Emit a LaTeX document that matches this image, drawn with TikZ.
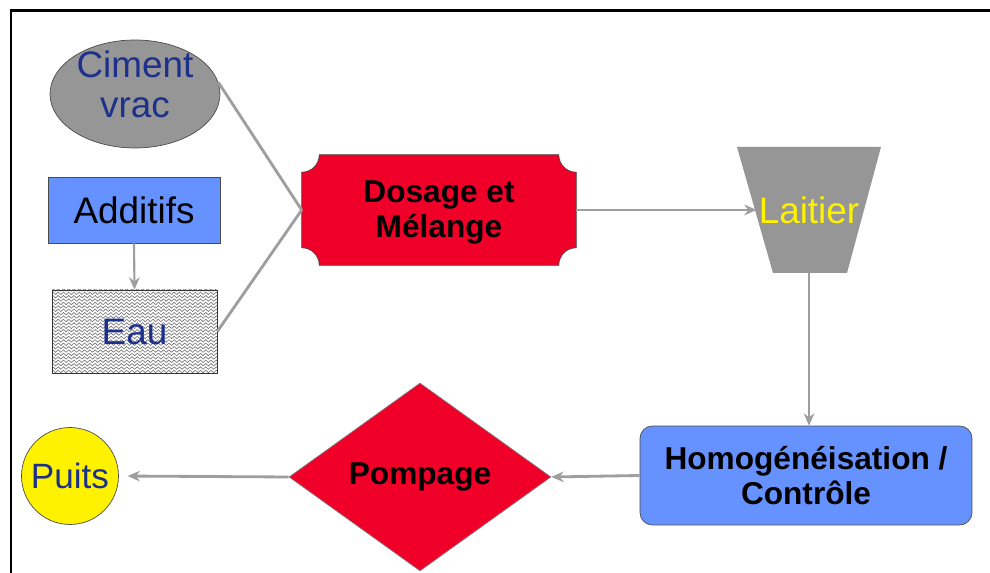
\documentclass[tikz,border=0pt]{standalone}
\usepackage{fontspec}
\setmainfont{Liberation Sans}
\usetikzlibrary{shapes.geometric,decorations.pathmorphing,arrows.meta}

\definecolor{boxred}{RGB}{240,0,40}
\definecolor{boxblue}{RGB}{102,146,255}
\definecolor{boxgray}{RGB}{150,150,150}
\definecolor{textblue}{RGB}{28,48,140}
\definecolor{linegray}{RGB}{158,158,158}

\begin{document}
\begin{tikzpicture}[x=0.02cm,y=0.02cm,
    flow/.style={draw=linegray, line width=1.6pt, -{Stealth[length=7pt,width=6pt]}},
    link/.style={draw=linegray, line width=1.6pt},
    bigtext/.style={font=\fontsize{21}{23}\selectfont, align=center},
    boldtext/.style={font=\fontsize{18}{20}\selectfont\bfseries, align=center},
    wave/.style={draw=black!55, line width=0.35pt, decorate,
        decoration={snake, amplitude=0.7pt, segment length=3pt}}]
    \useasboundingbox (0,0) rectangle (990,573);
    \fill[white] (0,0) rectangle (990,573);
    \draw[line width=1.7pt] (990,562) -- (11,562) -- (11,0);

    % sources
    \node[ellipse, draw=black!70, fill=boxgray, minimum width=3.4cm, minimum height=2.16cm,
        inner sep=0] (ciment) at (135,479) {};
    \node[bigtext, text=textblue] (cimentlbl) at ([yshift=5.5pt]ciment.center) {Ciment\\vrac};
    \node[rectangle, draw=black!70, fill=boxblue, minimum width=3.44cm, minimum height=1.32cm,
        inner sep=0, bigtext] (additifs) at (134,363) {Additifs};
    \begin{scope}
        \clip (52,200) rectangle (217,283);
        \foreach \k in {0,...,24}
            \draw[wave] (46,201.5+\k*3.4) -- (224,201.5+\k*3.4);
    \end{scope}
    \node[rectangle, draw=black!80, minimum width=3.3cm, minimum height=1.66cm,
        inner sep=0, bigtext, text=textblue] (eau) at (134.5,241.5) {Eau};

    % melange
    \node[minimum width=5.48cm, minimum height=2.2cm, inner sep=0] (dosage) at (439,363) {};
    \fill[boxred, draw=black!70]
        ([xshift=10pt]dosage.north west) -- ([xshift=-10pt]dosage.north east)
        arc[start angle=180, end angle=270, radius=10pt]
        -- ([yshift=10pt]dosage.south east)
        arc[start angle=90, end angle=180, radius=10pt]
        -- ([xshift=10pt]dosage.south west)
        arc[start angle=0, end angle=90, radius=10pt]
        -- ([yshift=-10pt]dosage.north west)
        arc[start angle=270, end angle=360, radius=10pt] -- cycle;
    \node[boldtext] (dosagelbl) at ([yshift=-1.5pt]dosage.center) {Dosage et\\M\'elange};

    \fill[boxgray] (737,426) -- (881,426) -- (847,300) -- (773,300) -- cycle;
    \node[inner sep=1pt, bigtext, text=yellow] (laitier) at (809,363) {Laitier};
    \coordinate (laitierbas) at (809,300);

    \node[rectangle, rounded corners=7pt, draw=black!70, fill=boxblue, minimum width=6.64cm,
        minimum height=1.98cm, inner sep=0, boldtext] (homog) at (806,97.5) {Homog\'en\'eisation /\\Contr\^ole};
    \node[diamond, fill=boxred, draw=black!50, minimum width=5.24cm, minimum height=3.76cm,
        inner sep=0, boldtext] (pompage) at (420,96) {Pompage};
    \node[circle, draw=black!70, fill=yellow, minimum size=1.94cm, inner sep=0,
        font=\fontsize{20}{23}\selectfont, text=textblue] (puits) at (70,97) {Puits};

    % connectors
    \draw[link] (ciment.8) -- (dosage.west);
    \draw[link] (eau.east) -- (dosage.west);
    \draw[flow, line width=1.2pt] (additifs.south) -- (eau.north);
    \draw[flow] (dosage.east) -- (laitier.west);
    \draw[flow] (laitierbas) -- (laitierbas |- homog.north);
    \draw[flow] (homog.west) -- (pompage.east);
    \draw[flow, shorten >=5pt] (pompage.west) -- (puits.east);
\end{tikzpicture}
\end{document}
